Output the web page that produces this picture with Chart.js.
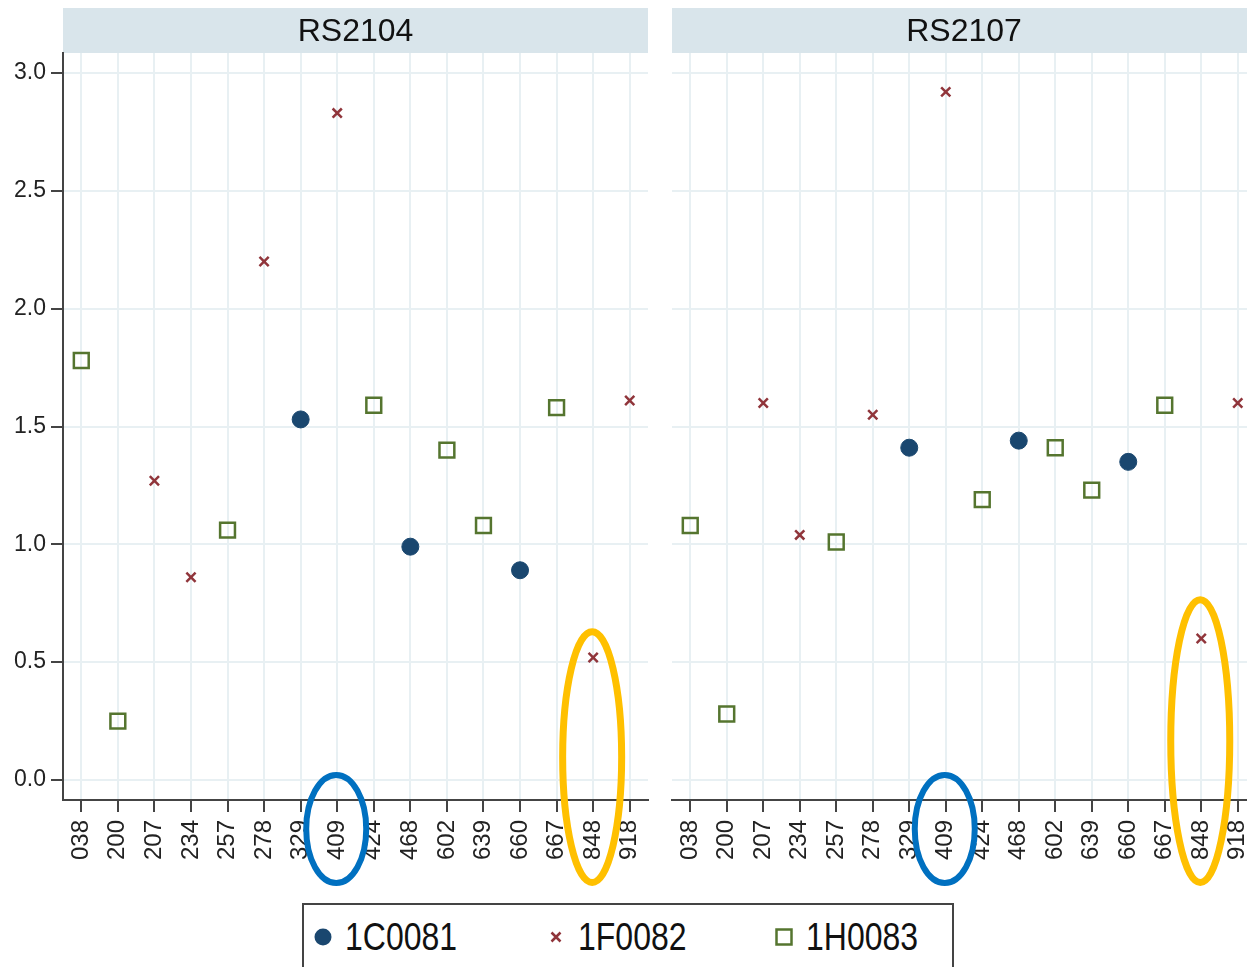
<!DOCTYPE html>
<html>
<head>
<meta charset="utf-8">
<title>RS2104 / RS2107</title>
<script src="https://cdn.jsdelivr.net/npm/chart.js@4.4.0/dist/chart.umd.min.js"></script>
<style>
  html, body { margin: 0; padding: 0; background: #fff; width: 1247px; height: 967px; overflow: hidden; }
  #wrap { position: relative; width: 1247px; height: 967px; overflow: hidden; }
  #left { position: absolute; left: 0; top: 0; }
  #right { position: absolute; left: 664px; top: 0; }
  #legend {
    position: absolute; left: 302px; top: 903px; width: 652px; height: 90px;
    border: 2px solid #444; box-sizing: border-box;
    font-family: 'Liberation Sans', Arial, sans-serif; font-size: 32px; color: #111;
  }
  #legend svg { position: absolute; }
  #legend span {
    position: absolute; top: 16px; line-height: 32px; display: inline-block;
    transform: scaleY(1.22); transform-origin: center;
  }
</style>
</head>
<body>
<div id="wrap">
  <canvas id="left" width="656" height="895"></canvas>
  <canvas id="right" width="600" height="895"></canvas>
  <div id="legend">
    <svg width="22" height="22" style="left:8px; top:21px"><circle cx="11" cy="11" r="8.5" fill="#1a476f"/></svg>
    <span style="left:41px">1C0081</span>
    <svg width="22" height="22" style="left:241px; top:21px"><path d="M6.5 6.5 L15.5 15.5 M15.5 6.5 L6.5 15.5" stroke="#90353b" stroke-width="2.5"/></svg>
    <span style="left:274px">1F0082</span>
    <svg width="22" height="22" style="left:469px; top:21px"><rect x="3.5" y="3.5" width="15" height="15" fill="none" stroke="#55752f" stroke-width="2.5"/></svg>
    <span style="left:502px">1H0083</span>
  </div>
</div>

<script>
// categories shared by both panels (the 7th label is partly hidden in the source)
const categories = ['038', '200', '207', '234', '257', '278', '329', '409', '424', '468', '602', '639', '660', '667', '848', '918'];
const yTicks = [0, 0.5, 1.0, 1.5, 2.0, 2.5, 3.0];
const seriesNames = ['1C0081', '1F0082', '1H0083'];

// RS2104
const rs2104_1C0081 = [null, null, null, null, null, null, 1.53, null, null, 0.99, null, null, 0.89, null, null, null];
const rs2104_1F0082 = [null, null, 1.27, 0.86, null, 2.20, null, 2.83, null, null, null, null, null, null, 0.52, 1.61];
const rs2104_1H0083 = [1.78, 0.25, null, null, 1.06, null, null, null, 1.59, null, 1.40, 1.08, null, 1.58, null, null];

// RS2107
const rs2107_1C0081 = [null, null, null, null, null, null, 1.41, null, null, 1.44, null, null, 1.35, null, null, null];
const rs2107_1F0082 = [null, null, 1.60, 1.04, null, 1.55, null, 2.92, null, null, null, null, null, null, 0.60, 1.60];
const rs2107_1H0083 = [1.08, 0.28, null, null, 1.01, null, null, null, 1.19, null, 1.41, 1.23, null, 1.59, null, null];

// hand-drawn rings over the picture: category + value range (outer edges)
const rs2104_rings = [
  { cat: '409', lo: -0.45, hi: 0.034, color: '#0070c0', width: 6 },
  { cat: '848', lo: -0.45, hi: 0.644, color: '#ffc000', width: 7 }
];
const rs2107_rings = [
  { cat: '409', lo: -0.45, hi: 0.034, color: '#0070c0', width: 6 },
  { cat: '848', lo: -0.45, hi: 0.78, color: '#ffc000', width: 7 }
];

const FONT = "'Liberation Sans', Arial, sans-serif";
const GRID = '#e8f0f3';
const AXIS = '#444';

// light header band behind the panel title
const bandPlugin = {
  id: 'band',
  beforeDraw(chart) {
    const { ctx, chartArea } = chart;
    ctx.save();
    ctx.fillStyle = '#d9e5eb';
    ctx.fillRect(chartArea.left, 8, chartArea.right - chartArea.left, chartArea.top - 8);
    ctx.restore();
  }
};

const ringPlugin = {
  id: 'rings',
  afterDraw(chart, args, opts) {
    const { ctx } = chart;
    const x = chart.scales.x, y = chart.scales.y;
    (opts.list || []).forEach(r => {
      const cx = x.getPixelForValue(categories.indexOf(r.cat));
      const top = y.getPixelForValue(r.hi), bot = y.getPixelForValue(r.lo);
      ctx.save();
      ctx.strokeStyle = r.color;
      ctx.lineWidth = r.width;
      ctx.beginPath();
      ctx.ellipse(cx - 1, (top + bot) / 2, 33 - r.width / 2, (bot - top) / 2 - r.width / 2, 0, 0, Math.PI * 2);
      ctx.stroke();
      ctx.restore();
    });
  }
};

function makePanel(id, title, c, f, h, rings, showY, yWidth) {
  new Chart(document.getElementById(id), {
    type: 'line',
    data: {
      labels: categories,
      datasets: [
        { label: seriesNames[0], data: c, showLine: false, pointStyle: 'circle', pointRadius: 8.5,
          backgroundColor: '#1a476f', borderColor: '#1a476f', borderWidth: 1 },
        { label: seriesNames[1], data: f, showLine: false, pointStyle: 'crossRot', pointRadius: 6.5,
          backgroundColor: '#90353b', borderColor: '#90353b', borderWidth: 2.5 },
        { label: seriesNames[2], data: h, showLine: false, pointStyle: 'rect', pointRadius: 10.5,
          backgroundColor: 'rgba(0,0,0,0)', borderColor: '#55752f', borderWidth: 2.5 }
      ]
    },
    options: {
      responsive: false,
      animation: false,
      events: [],
      devicePixelRatio: 1,
      layout: { autoPadding: false, padding: { left: 0, right: 8, top: 0, bottom: 0 } },
      plugins: {
        legend: { display: false },
        tooltip: { enabled: false },
        title: {
          display: true,
          text: title,
          fullSize: false,
          color: '#111',
          font: { family: FONT, size: 32, weight: 'normal', lineHeight: 1.2 },
          padding: { top: 12.5, bottom: 2.1 }
        },
        rings: { list: rings }
      },
      scales: {
        x: {
          type: 'category',
          offset: true,
          grid: { color: GRID, lineWidth: 2, tickLength: 12, tickColor: AXIS, tickWidth: 2 },
          border: { display: true, color: AXIS, width: 2 },
          ticks: { color: '#222', font: { family: FONT, size: 24 }, minRotation: 90, maxRotation: 90, autoSkip: false, padding: 8 },
          afterFit: s => { s.height = 95; s.paddingLeft = 0; s.paddingRight = 0; }
        },
        y: {
          min: -0.085,
          max: 3.085,
          afterBuildTicks: s => { s.ticks = yTicks.map(v => ({ value: v })); },
          grid: { color: GRID, lineWidth: 2, drawTicks: showY, tickLength: 12, tickColor: AXIS, tickWidth: 2 },
          border: { display: showY, color: AXIS, width: 2 },
          ticks: { display: showY, color: '#222', font: { family: FONT, size: 23 }, padding: 5,
                   callback: v => Number(v).toFixed(1) },
          afterFit: s => { s.width = yWidth; s.paddingTop = 0; s.paddingBottom = 0; }
        }
      }
    },
    plugins: [bandPlugin, ringPlugin]
  });
}

makePanel('left', 'RS2104', rs2104_1C0081, rs2104_1F0082, rs2104_1H0083, rs2104_rings, true, 63);
makePanel('right', 'RS2107', rs2107_1C0081, rs2107_1F0082, rs2107_1H0083, rs2107_rings, false, 8);
</script>
</body>
</html>
